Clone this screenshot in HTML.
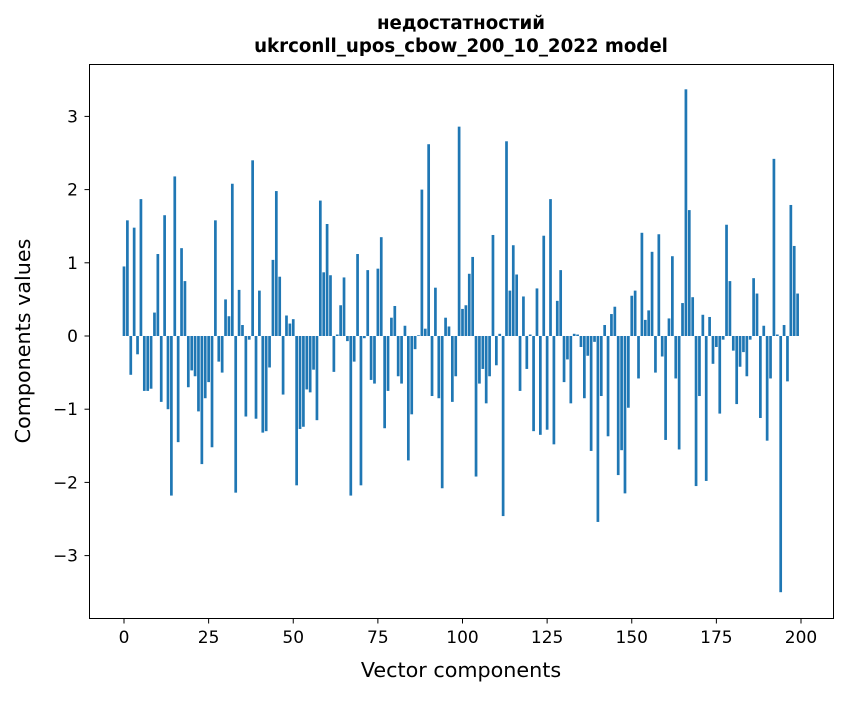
<!DOCTYPE html>
<html><head><meta charset="utf-8"><style>
body{margin:0;background:#fff;}
svg text{font-family:"DejaVu Sans","Liberation Sans",sans-serif;fill:#000;}
</style></head><body>
<svg id="chart" width="847" height="696" xmlns="http://www.w3.org/2000/svg">
<rect width="847" height="696" fill="#fff"/>
<text x="461" y="29" text-anchor="middle" font-size="18.2" font-weight="bold">недостатностий</text>
<text x="461" y="52" text-anchor="middle" font-size="18.2" font-weight="bold">ukrconll_upos_cbow_200_10_2022 model</text>
<g id="bars"></g>
<g id="xticks"></g>
<g id="yticks"></g>
<rect x="89.5" y="64.5" width="744" height="554" fill="none" stroke="#000" stroke-width="1"/>
<text x="461" y="677" text-anchor="middle" font-size="20.7">Vector components</text>
<text x="0" y="0" transform="translate(30,341) rotate(-90)" text-anchor="middle" font-size="20.7">Components values</text>
</svg>
<script>
const values = [0.95,1.58,-0.53,1.48,-0.25,1.87,-0.75,-0.75,-0.72,0.32,1.12,-0.9,1.65,-1.0,-2.18,2.18,-1.45,1.2,0.75,-0.7,
-0.47,-0.55,-1.03,-1.75,-0.85,-0.63,-1.52,1.58,-0.35,-0.5,0.5,0.27,2.08,-2.14,0.63,0.15,-1.1,-0.05,2.4,-1.13,
0.62,-1.32,-1.3,-0.43,1.04,1.98,0.81,-0.8,0.28,0.17,0.23,-2.04,-1.27,-1.24,-0.73,-0.77,-0.46,-1.15,1.85,0.87,
1.53,0.83,-0.49,0.02,0.42,0.8,-0.07,-2.18,-0.35,1.12,-2.04,-0.03,0.9,-0.6,-0.65,0.92,1.35,-1.26,-0.75,0.25,
0.41,-0.55,-0.65,0.14,-1.7,-1.07,-0.18,0.01,2.0,0.1,2.62,-0.82,0.66,-0.85,-2.08,0.25,0.13,-0.9,-0.55,2.86,
0.37,0.42,0.85,1.08,-1.92,-0.65,-0.45,-0.92,-0.55,1.38,-0.4,0.03,-2.46,2.66,0.62,1.24,0.84,-0.75,0.54,-0.45,
0.02,-1.3,0.65,-1.35,1.37,-1.28,1.87,-1.48,0.48,0.9,-0.63,-0.32,-0.92,0.03,0.02,-0.15,-0.85,-0.27,-1.57,-0.08,
-2.54,-0.82,0.15,-1.37,0.3,0.4,-1.9,-1.56,-2.15,-0.98,0.55,0.62,-0.58,1.41,0.22,0.35,1.15,-0.5,1.39,-0.28,
-1.42,0.24,1.09,-0.58,-1.55,0.45,3.37,1.72,0.53,-2.05,-0.82,0.29,-1.98,0.26,-0.38,-0.15,-1.06,-0.05,1.52,0.75,
-0.2,-0.93,-0.42,-0.22,-0.55,-0.05,0.79,0.58,-1.12,0.14,-1.43,-0.58,2.42,0.02,-3.5,0.15,-0.62,1.79,1.23,0.58];
const xTickLabels = [0,25,50,75,100,125,150,175,200];
const yTickLabels = [-3,-2,-1,0,1,2,3];

const NS="http://www.w3.org/2000/svg";
const xs = v => 124 + v*3.385;
const ys = v => 336 - v*73.2;
function mk(tag, attrs){const e=document.createElementNS(NS,tag);for(const k in attrs)e.setAttribute(k,attrs[k]);return e;}
const bars=document.getElementById('bars');
values.forEach((v,i)=>{
  const y0=ys(0), y1=ys(v);
  const r=mk('rect',{x:xs(i-0.4),y:Math.min(y0,y1),width:0.8*3.385,height:Math.abs(y1-y0),fill:'#1f77b4'});
  
  
  bars.appendChild(r);
});
const xt=document.getElementById('xticks');
xTickLabels.forEach(t=>{
  const x=xs(t);
  const l=mk('line',{x1:x,x2:x,y1:618.5,y2:623.5,stroke:'#000'});
  
  
  xt.appendChild(l);
  const tx=mk('text',{x:x,y:643,'text-anchor':'middle','font-size':'17'});
  tx.textContent=t;
  
  
  xt.appendChild(tx);
});
const yt=document.getElementById('yticks');
yTickLabels.forEach(t=>{
  const y=ys(t);
  const l=mk('line',{x1:84.5,x2:89.5,y1:y,y2:y,stroke:'#000'});
  
  
  yt.appendChild(l);
  const tx=mk('text',{x:78,y:y+6,'text-anchor':'end','font-size':'17'});
  tx.textContent=t<0?'\u2212'+Math.abs(t):String(t);
  
  
  yt.appendChild(tx);
});
</script>
</body></html>
